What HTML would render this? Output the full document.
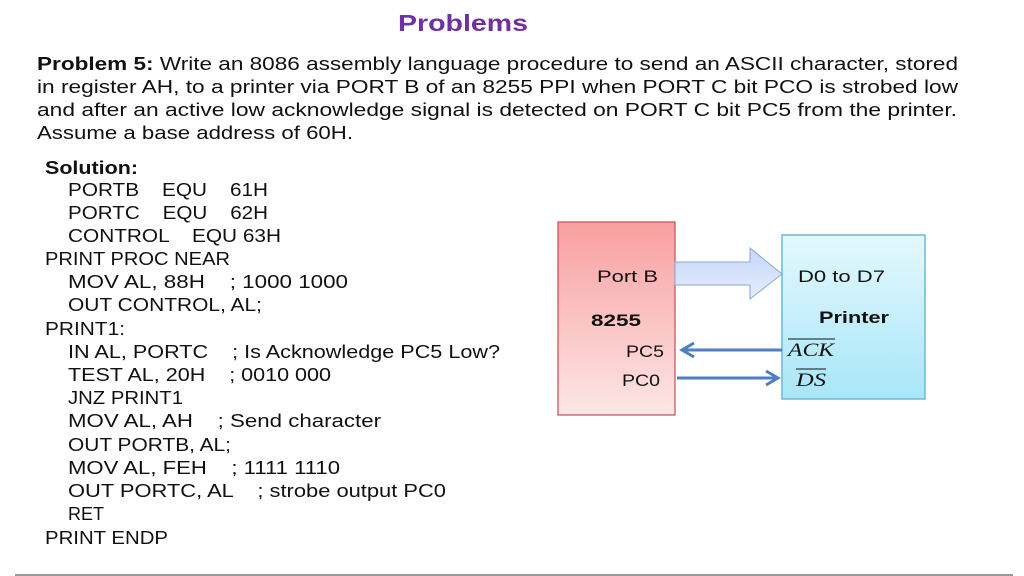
<html><head><style>body{margin:0;background:#fff}</style></head><body>
<svg width="1024" height="576" xmlns="http://www.w3.org/2000/svg" font-family="Liberation Sans, sans-serif" fill="#111">
<defs>
<linearGradient id="pk" x1="0" y1="0" x2="0" y2="1"><stop offset="0" stop-color="#f9a0a0"/><stop offset="1" stop-color="#fde6e6"/></linearGradient>
<linearGradient id="bl" x1="0" y1="0" x2="0" y2="1"><stop offset="0" stop-color="#e4f8fe"/><stop offset="1" stop-color="#a8e6f8"/></linearGradient>
<linearGradient id="ar" x1="0" y1="0" x2="0" y2="1"><stop offset="0" stop-color="#c4d6f8"/><stop offset="1" stop-color="#e6eefc"/></linearGradient>
</defs>
<text x="398" y="31" font-size="23" font-weight="bold" fill="#7030a0" textLength="130" lengthAdjust="spacingAndGlyphs">Problems</text>
<g font-size="18.5">
<text x="37" y="70" textLength="921" lengthAdjust="spacingAndGlyphs"><tspan font-weight="bold">Problem 5:</tspan> Write an 8086 assembly language procedure to send an ASCII character, stored</text>
<text x="37" y="93" textLength="921" lengthAdjust="spacingAndGlyphs">in register AH, to a printer via PORT B of an 8255 PPI when PORT C bit PCO is strobed low</text>
<text x="37" y="116" textLength="920" lengthAdjust="spacingAndGlyphs">and after an active low acknowledge signal is detected on PORT C bit PC5 from the printer.</text>
<text x="37" y="139" textLength="316" lengthAdjust="spacingAndGlyphs">Assume a base address of 60H.</text>
</g>
<g font-size="18">
<text x="45" y="174" font-weight="bold" textLength="93" lengthAdjust="spacingAndGlyphs">Solution:</text>
<text x="68" y="196" xml:space="preserve" textLength="200" lengthAdjust="spacingAndGlyphs">PORTB    EQU    61H</text>
<text x="68" y="219" xml:space="preserve" textLength="200" lengthAdjust="spacingAndGlyphs">PORTC    EQU    62H</text>
<text x="68" y="242" xml:space="preserve" textLength="213" lengthAdjust="spacingAndGlyphs">CONTROL    EQU 63H</text>
<text x="45" y="265" textLength="185" lengthAdjust="spacingAndGlyphs">PRINT PROC NEAR</text>
<text x="68" y="288" xml:space="preserve" textLength="280" lengthAdjust="spacingAndGlyphs">MOV AL, 88H    ; 1000 1000</text>
<text x="68" y="311" textLength="194" lengthAdjust="spacingAndGlyphs">OUT CONTROL, AL;</text>
<text x="45" y="335" textLength="80" lengthAdjust="spacingAndGlyphs">PRINT1:</text>
<text x="68" y="358" xml:space="preserve" textLength="432" lengthAdjust="spacingAndGlyphs">IN AL, PORTC    ; Is Acknowledge PC5 Low?</text>
<text x="68" y="381" xml:space="preserve" textLength="263" lengthAdjust="spacingAndGlyphs">TEST AL, 20H    ; 0010 000</text>
<text x="68" y="404" textLength="115" lengthAdjust="spacingAndGlyphs">JNZ PRINT1</text>
<text x="68" y="427" xml:space="preserve" textLength="313" lengthAdjust="spacingAndGlyphs">MOV AL, AH    ; Send character</text>
<text x="68" y="451" textLength="163" lengthAdjust="spacingAndGlyphs">OUT PORTB, AL;</text>
<text x="68" y="474" xml:space="preserve" textLength="272" lengthAdjust="spacingAndGlyphs">MOV AL, FEH    ; 1111 1110</text>
<text x="68" y="497" xml:space="preserve" textLength="378" lengthAdjust="spacingAndGlyphs">OUT PORTC, AL    ; strobe output PC0</text>
<text x="68" y="520" textLength="36" lengthAdjust="spacingAndGlyphs">RET</text>
<text x="45" y="544" textLength="123" lengthAdjust="spacingAndGlyphs">PRINT ENDP</text>
</g>
<rect x="558" y="222" width="117" height="193" fill="url(#pk)" stroke="#c0504d" stroke-width="1.2"/>
<rect x="782" y="235" width="143" height="164" fill="url(#bl)" stroke="#6cb8d4" stroke-width="1.5"/>
<path d="M675 262 H750 V248 L782 274 L750 299 V285 H675 Z" fill="url(#ar)" stroke="#8aa6d8" stroke-width="1"/>
<g stroke="#4f7fc0" stroke-width="3" fill="none">
<line x1="782" y1="350" x2="684" y2="350"/><polyline points="694,343 682,350 694,357"/>
<line x1="677" y1="378" x2="778" y2="378"/><polyline points="766,371 778,378 766,385"/>
</g>
<g font-size="17">
<text x="597" y="282" textLength="61" lengthAdjust="spacingAndGlyphs">Port B</text>
<text x="591" y="326" font-weight="bold" textLength="50" lengthAdjust="spacingAndGlyphs">8255</text>
<text x="626" y="357" textLength="38" lengthAdjust="spacingAndGlyphs">PC5</text>
<text x="622" y="386" textLength="38" lengthAdjust="spacingAndGlyphs">PC0</text>
<text x="798" y="282" textLength="87" lengthAdjust="spacingAndGlyphs">D0 to D7</text>
<text x="819" y="323" font-weight="bold" textLength="70" lengthAdjust="spacingAndGlyphs">Printer</text>
</g>
<g font-family="Liberation Serif, serif" font-style="italic" font-size="19">
<text x="788" y="356" textLength="46" lengthAdjust="spacingAndGlyphs">ACK</text>
<text x="796" y="386" textLength="30" lengthAdjust="spacingAndGlyphs">DS</text>
</g>
<line x1="788" y1="339" x2="835" y2="339" stroke="#111" stroke-width="1"/>
<line x1="796" y1="369" x2="826" y2="369" stroke="#111" stroke-width="1"/>
<line x1="15" y1="575" x2="1013" y2="575" stroke="#333" stroke-width="1"/>
</svg>
</body></html>
